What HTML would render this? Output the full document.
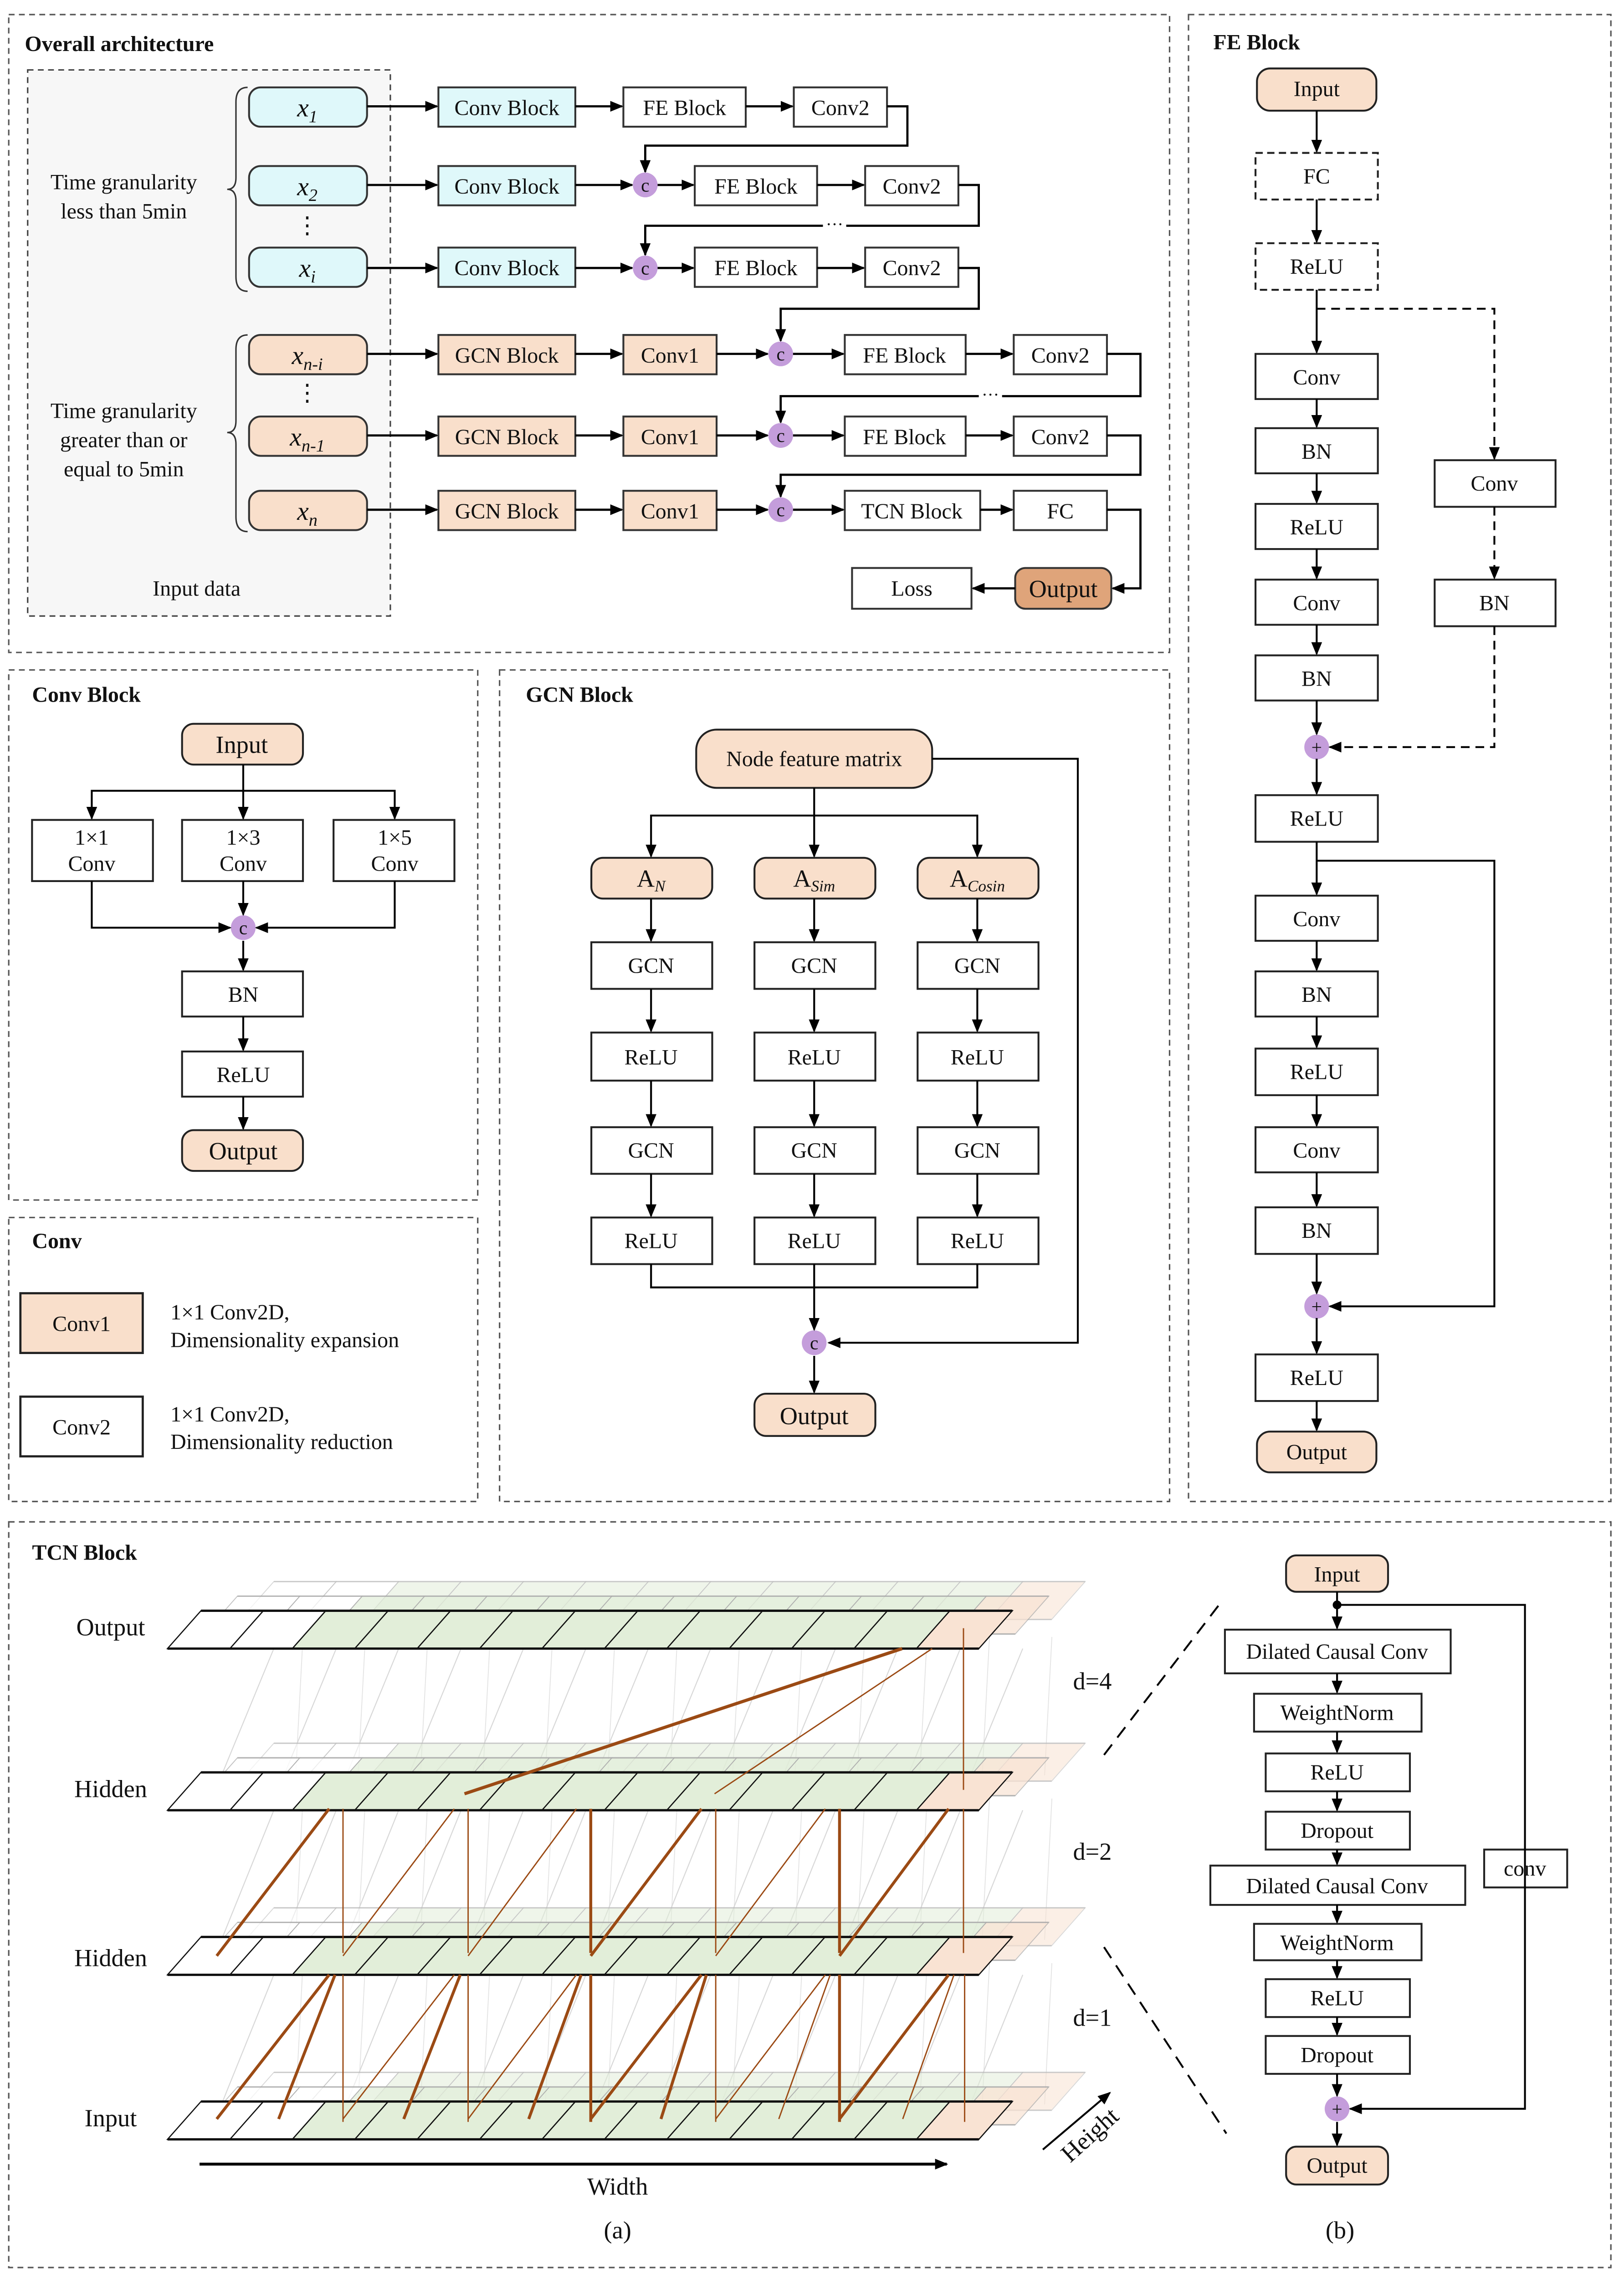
<!DOCTYPE html>
<html><head><meta charset="utf-8"><style>
html,body{margin:0;padding:0;background:#fff;width:3565px;height:5009px;overflow:hidden}
svg{display:block}
text{font-family:"Liberation Serif",serif;fill:#111}
</style></head><body>
<svg id="s" xmlns="http://www.w3.org/2000/svg" width="3565" height="5009" viewBox="0 0 1115 1567" preserveAspectRatio="none" font-family="Liberation Serif, serif">
<defs>
<marker id="a" markerWidth="9" markerHeight="9" refX="8" refY="4.5" orient="auto" markerUnits="userSpaceOnUse"><path d="M0,0.8 L9,4.5 L0,8.2Z" fill="#000"/></marker>
</defs>
<g fill="none" stroke="#555" stroke-width="1" stroke-dasharray="4,3">
<rect x="6" y="10" width="797" height="438"/>
<rect x="816" y="10" width="290" height="1021"/>
<rect x="6" y="460" width="322" height="364"/>
<rect x="6" y="836" width="322" height="195"/>
<rect x="343" y="460" width="460" height="571"/>
<rect x="6" y="1045" width="1100" height="512"/>
</g>
<rect x="19" y="48" width="249" height="375" fill="#f7f7f7" stroke="#444" stroke-width="1" stroke-dasharray="4,3"/>
<g font-weight="bold" font-size="15">
<text x="17" y="35">Overall architecture</text>
<text x="833" y="34">FE Block</text>
<text x="22" y="482">Conv Block</text>
<text x="22" y="857">Conv</text>
<text x="361" y="482">GCN  Block</text>
<text x="22" y="1071">TCN Block</text>
</g>

<!-- Overall architecture -->
<g font-size="15" text-anchor="middle">
<text x="85" y="130">Time granularity</text><text x="85" y="150">less than 5min</text>
<text x="85" y="287">Time granularity</text><text x="85" y="307">greater than or</text><text x="85" y="327">equal to 5min</text>
<text x="135" y="409">Input data</text>
<text x="211" y="160" font-size="16">⋮</text><text x="211" y="275" font-size="16">⋮</text>
</g>
<g fill="none" stroke="#333" stroke-width="1">
<path d="M170,60 Q162,60 162,70 L162,122 Q162,130 156,130 Q162,130 162,138 L162,190 Q162,200 170,200"/>
<path d="M170,230 Q162,230 162,240 L162,289 Q162,297 156,297 Q162,297 162,305 L162,355 Q162,365 170,365"/>
</g>
<g stroke="#333" stroke-width="1.3">
<rect x="171" y="60" width="81" height="27" rx="8" fill="#dff8fa"/>
<rect x="171" y="114" width="81" height="27" rx="8" fill="#dff8fa"/>
<rect x="171" y="170" width="81" height="27" rx="8" fill="#dff8fa"/>
<rect x="171" y="230" width="81" height="27" rx="8" fill="#f9dfcb"/>
<rect x="171" y="286" width="81" height="27" rx="8" fill="#f9dfcb"/>
<rect x="171" y="337" width="81" height="27" rx="8" fill="#f9dfcb"/>
<rect x="301" y="60" width="94" height="27" fill="#dff8fa"/>
<rect x="301" y="114" width="94" height="27" fill="#dff8fa"/>
<rect x="301" y="170" width="94" height="27" fill="#dff8fa"/>
<rect x="301" y="230" width="94" height="27" fill="#f9dfcb"/>
<rect x="301" y="286" width="94" height="27" fill="#f9dfcb"/>
<rect x="301" y="337" width="94" height="27" fill="#f9dfcb"/>
<rect x="428" y="230" width="64" height="27" fill="#f9dfcb"/>
<rect x="428" y="286" width="64" height="27" fill="#f9dfcb"/>
<rect x="428" y="337" width="64" height="27" fill="#f9dfcb"/>
<rect x="428" y="60" width="84" height="27" fill="#fff"/>
<rect x="545" y="60" width="64" height="27" fill="#fff"/>
<rect x="477" y="114" width="84" height="27" fill="#fff"/>
<rect x="594" y="114" width="64" height="27" fill="#fff"/>
<rect x="477" y="170" width="84" height="27" fill="#fff"/>
<rect x="594" y="170" width="64" height="27" fill="#fff"/>
<rect x="580" y="230" width="83" height="27" fill="#fff"/>
<rect x="696" y="230" width="64" height="27" fill="#fff"/>
<rect x="580" y="286" width="83" height="27" fill="#fff"/>
<rect x="696" y="286" width="64" height="27" fill="#fff"/>
<rect x="580" y="337" width="93" height="27" fill="#fff"/>
<rect x="696" y="337" width="64" height="27" fill="#fff"/>
<rect x="697" y="390" width="66" height="28" rx="7" fill="#dfa47a"/>
<rect x="585" y="390" width="82" height="28" fill="#fff"/>
</g>
<g font-size="15" text-anchor="middle">
<text x="211" y="80" font-style="italic" font-size="18">x<tspan font-size="12" dy="4">1</tspan></text>
<text x="211" y="134" font-style="italic" font-size="18">x<tspan font-size="12" dy="4">2</tspan></text>
<text x="211" y="190" font-style="italic" font-size="18">x<tspan font-size="12" dy="4">i</tspan></text>
<text x="211" y="250" font-style="italic" font-size="18">x<tspan font-size="12" dy="4">n-i</tspan></text>
<text x="211" y="306" font-style="italic" font-size="18">x<tspan font-size="12" dy="4">n-1</tspan></text>
<text x="211" y="357" font-style="italic" font-size="18">x<tspan font-size="12" dy="4">n</tspan></text>
<text x="348" y="79">Conv Block</text><text x="348" y="133">Conv Block</text><text x="348" y="189">Conv Block</text>
<text x="348" y="249">GCN Block</text><text x="348" y="305">GCN Block</text><text x="348" y="356">GCN Block</text>
<text x="460" y="249">Conv1</text><text x="460" y="305">Conv1</text><text x="460" y="356">Conv1</text>
<text x="470" y="79">FE Block</text><text x="577" y="79">Conv2</text>
<text x="519" y="133">FE Block</text><text x="626" y="133">Conv2</text>
<text x="519" y="189">FE Block</text><text x="626" y="189">Conv2</text>
<text x="621" y="249">FE Block</text><text x="728" y="249">Conv2</text>
<text x="621" y="305">FE Block</text><text x="728" y="305">Conv2</text>
<text x="626" y="356">TCN Block</text><text x="728" y="356">FC</text>
<text x="730" y="410" font-size="17">Output</text><text x="626" y="409">Loss</text>
</g>
<g fill="none" stroke="#000" stroke-width="1.5" marker-end="url(#a)">
<path d="M252,73H300"/><path d="M395,73H427"/><path d="M512,73H544"/>
<path d="M609,73H623V100H443V118"/>
<path d="M252,127H300"/><path d="M395,127H434"/><path d="M451,127H476"/><path d="M561,127H593"/>
<path d="M658,127H672V155H443V175"/>
<path d="M252,184H300"/><path d="M395,184H434"/><path d="M451,184H476"/><path d="M561,184H593"/>
<path d="M658,184H672V212H536V234"/>
<path d="M252,243H300"/><path d="M395,243H427"/><path d="M492,243H527"/><path d="M544,243H579"/><path d="M663,243H695"/>
<path d="M760,243H783V272H536V290"/>
<path d="M252,299H300"/><path d="M395,299H427"/><path d="M492,299H527"/><path d="M544,299H579"/><path d="M663,299H695"/>
<path d="M760,299H783V326H536V341"/>
<path d="M252,350H300"/><path d="M395,350H427"/><path d="M492,350H527"/><path d="M544,350H579"/><path d="M673,350H695"/>
<path d="M760,350H783V404H764"/><path d="M697,404H668"/>
</g>
<rect x="565" y="150" width="16" height="10" fill="#fff"/><text x="573" y="158" font-size="12" text-anchor="middle">···</text>
<rect x="672" y="267" width="16" height="10" fill="#fff"/><text x="680" y="275" font-size="12" text-anchor="middle">···</text>

<g id="circles"></g>

<!-- FE block -->
<g stroke="#222" stroke-width="1.3" fill="#fff">
<rect x="863" y="47" width="82" height="29" rx="9" fill="#f9dfcb"/>
<rect x="862" y="105" width="84" height="32" stroke-dasharray="5,3"/>
<rect x="862" y="167" width="84" height="32" stroke-dasharray="5,3"/>
<rect x="862" y="243" width="84" height="31"/>
<rect x="862" y="294" width="84" height="31"/>
<rect x="862" y="346" width="84" height="31"/>
<rect x="862" y="398" width="84" height="31"/>
<rect x="862" y="450" width="84" height="31"/>
<rect x="862" y="546" width="84" height="32"/>
<rect x="862" y="615" width="84" height="31"/>
<rect x="862" y="667" width="84" height="31"/>
<rect x="862" y="720" width="84" height="32"/>
<rect x="862" y="774" width="84" height="31"/>
<rect x="862" y="829" width="84" height="32"/>
<rect x="862" y="930" width="84" height="32"/>
<rect x="863" y="983" width="82" height="28" rx="9" fill="#f9dfcb"/>
<rect x="985" y="316" width="83" height="32"/>
<rect x="985" y="398" width="83" height="32"/>
</g>
<g font-size="15" text-anchor="middle">
<text x="904" y="66">Input</text><text x="904" y="126">FC</text><text x="904" y="188">ReLU</text>
<text x="904" y="264">Conv</text><text x="904" y="315">BN</text><text x="904" y="367">ReLU</text>
<text x="904" y="419">Conv</text><text x="904" y="471">BN</text><text x="904" y="567">ReLU</text>
<text x="904" y="636">Conv</text><text x="904" y="688">BN</text><text x="904" y="741">ReLU</text>
<text x="904" y="795">Conv</text><text x="904" y="850">BN</text><text x="904" y="951">ReLU</text>
<text x="904" y="1002">Output</text>
<text x="1026" y="337">Conv</text><text x="1026" y="419">BN</text>
</g>
<g fill="none" stroke="#000" stroke-width="1.3" marker-end="url(#a)">
<path d="M904,76V104"/><path d="M904,137V166"/><path d="M904,199V242"/>
<path d="M904,274V293"/><path d="M904,325V345"/><path d="M904,377V397"/><path d="M904,429V449"/><path d="M904,481V504"/>
<path d="M904,521V545"/><path d="M904,578V614"/><path d="M904,646V666"/><path d="M904,698V719"/><path d="M904,752V773"/><path d="M904,805V828"/><path d="M904,861V888"/>
<path d="M904,905V929"/><path d="M904,962V982"/>
<path d="M904,591H1026V897H913"/>
</g>
<g fill="none" stroke="#000" stroke-width="1.3" stroke-dasharray="6,4" marker-end="url(#a)">
<path d="M904,212H1026V315"/><path d="M1026,348V397"/><path d="M1026,430V513H913"/>
</g>

<!-- Conv block -->
<g stroke="#222" stroke-width="1.3" fill="#fff">
<rect x="125" y="497" width="83" height="28" rx="8" fill="#f9dfcb"/>
<rect x="22" y="563" width="83" height="42"/><rect x="125" y="563" width="83" height="42"/><rect x="229" y="563" width="83" height="42"/>
<rect x="125" y="667" width="83" height="31"/><rect x="125" y="722" width="83" height="31"/>
<rect x="125" y="776" width="83" height="28" rx="8" fill="#f9dfcb"/>
</g>
<g font-size="15" text-anchor="middle">
<text x="166" y="517" font-size="17">Input</text>
<text x="63" y="580">1×1</text><text x="63" y="598">Conv</text>
<text x="167" y="580">1×3</text><text x="167" y="598">Conv</text>
<text x="271" y="580">1×5</text><text x="271" y="598">Conv</text>
<text x="167" y="688">BN</text><text x="167" y="743">ReLU</text>
<text x="167" y="796" font-size="17">Output</text>
</g>
<g fill="none" stroke="#000" stroke-width="1.3" marker-end="url(#a)">
<path d="M167,525V543H63V562"/><path d="M167,543H271V562"/><path d="M167,543V562"/>
<path d="M63,605V637H158"/><path d="M271,605V637H176"/><path d="M167,605V628"/>
<path d="M167,646V666"/><path d="M167,698V721"/><path d="M167,753V775"/>
</g>

<!-- Conv legend -->
<rect x="14" y="888" width="84" height="41" fill="#f9dfcb" stroke="#222" stroke-width="1.5"/>
<rect x="14" y="959" width="84" height="41" fill="#fff" stroke="#222" stroke-width="1.5"/>
<g font-size="15"><text x="56" y="914" text-anchor="middle">Conv1</text><text x="56" y="985" text-anchor="middle">Conv2</text>
<text x="117" y="906">1×1 Conv2D,</text><text x="117" y="925">Dimensionality expansion</text>
<text x="117" y="976">1×1 Conv2D,</text><text x="117" y="995">Dimensionality reduction</text></g>

<!-- GCN block -->
<g stroke="#222" stroke-width="1.3" fill="#fff">
<rect x="478" y="501" width="162" height="40" rx="14" fill="#f9dfcb"/>
<rect x="406" y="589" width="83" height="28" rx="8" fill="#f9dfcb"/><rect x="518" y="589" width="83" height="28" rx="8" fill="#f9dfcb"/><rect x="630" y="589" width="83" height="28" rx="8" fill="#f9dfcb"/>
<rect x="406" y="647" width="83" height="32"/><rect x="518" y="647" width="83" height="32"/><rect x="630" y="647" width="83" height="32"/>
<rect x="406" y="709" width="83" height="33"/><rect x="518" y="709" width="83" height="33"/><rect x="630" y="709" width="83" height="33"/>
<rect x="406" y="774" width="83" height="32"/><rect x="518" y="774" width="83" height="32"/><rect x="630" y="774" width="83" height="32"/>
<rect x="406" y="836" width="83" height="32"/><rect x="518" y="836" width="83" height="32"/><rect x="630" y="836" width="83" height="32"/>
<rect x="518" y="957" width="83" height="29" rx="8" fill="#f9dfcb"/>
</g>
<g font-size="15" text-anchor="middle">
<text x="559" y="526">Node feature matrix</text>
<text x="447" y="609" font-size="17">A<tspan font-size="11" font-style="italic" dy="3">N</tspan></text>
<text x="559" y="609" font-size="17">A<tspan font-size="11" font-style="italic" dy="3">Sim</tspan></text>
<text x="671" y="609" font-size="17">A<tspan font-size="11" font-style="italic" dy="3">Cosin</tspan></text>
<text x="447" y="668">GCN</text><text x="559" y="668">GCN</text><text x="671" y="668">GCN</text>
<text x="447" y="731">ReLU</text><text x="559" y="731">ReLU</text><text x="671" y="731">ReLU</text>
<text x="447" y="795">GCN</text><text x="559" y="795">GCN</text><text x="671" y="795">GCN</text>
<text x="447" y="857">ReLU</text><text x="559" y="857">ReLU</text><text x="671" y="857">ReLU</text>
<text x="559" y="978" font-size="17">Output</text>
</g>
<path d="M447,868V884H671V868" fill="none" stroke="#000" stroke-width="1.3"/>
<g fill="none" stroke="#000" stroke-width="1.3" marker-end="url(#a)">
<path d="M559,541V560H447V588"/><path d="M559,560H671V588"/><path d="M559,560V588"/>
<path d="M447,617V646"/><path d="M559,617V646"/><path d="M671,617V646"/>
<path d="M447,679V708"/><path d="M559,679V708"/><path d="M671,679V708"/>
<path d="M447,742V773"/><path d="M559,742V773"/><path d="M671,742V773"/>
<path d="M447,806V835"/><path d="M559,806V835"/><path d="M671,806V835"/>
<path d="M559,868V913"/>
<path d="M640,521H740V922H569"/><path d="M559,931V956"/>
</g>

<!-- TCN (a) -->
<g id="tcn"></g>
<g font-size="17" text-anchor="middle">
<text x="76" y="1123">Output</text><text x="76" y="1234">Hidden</text><text x="76" y="1350">Hidden</text><text x="76" y="1460">Input</text>
<text x="750" y="1160">d=4</text><text x="750" y="1277">d=2</text><text x="750" y="1391">d=1</text>
<text x="424" y="1507">Width</text><text x="424" y="1537">(a)</text><text x="920" y="1537">(b)</text>
<text x="0" y="0" transform="translate(752,1470) rotate(-42)">Height</text>
</g>
<path d="M137,1486H650" stroke="#000" stroke-width="2" marker-end="url(#a)"/>
<path d="M716,1476L762,1437" stroke="#000" stroke-width="1.3" marker-end="url(#a)"/>
<g stroke="#000" stroke-width="1.3" stroke-dasharray="9,6"><path d="M758,1205L840,1098"/><path d="M758,1337L842,1465"/></g>

<!-- TCN (b) -->
<g stroke="#222" stroke-width="1.3" fill="#fff">
<rect x="883" y="1068" width="70" height="25" rx="7" fill="#f9dfcb"/>
<rect x="841" y="1119" width="155" height="30"/>
<rect x="861" y="1163" width="115" height="26"/>
<rect x="869" y="1204" width="99" height="26"/>
<rect x="869" y="1244" width="99" height="26"/>
<rect x="831" y="1281" width="175" height="27"/>
<rect x="861" y="1321" width="115" height="25"/>
<rect x="869" y="1359" width="99" height="26"/>
<rect x="869" y="1398" width="99" height="26"/>
<rect x="883" y="1474" width="70" height="26" rx="7" fill="#f9dfcb"/>
<rect x="1019" y="1270" width="57" height="26"/>
</g>
<g font-size="15" text-anchor="middle">
<text x="918" y="1086">Input</text><text x="918" y="1139">Dilated Causal Conv</text><text x="918" y="1181">WeightNorm</text>
<text x="918" y="1222">ReLU</text><text x="918" y="1262">Dropout</text><text x="918" y="1300">Dilated Causal Conv</text>
<text x="918" y="1339">WeightNorm</text><text x="918" y="1377">ReLU</text><text x="918" y="1416">Dropout</text>
<text x="918" y="1492">Output</text><text x="1047" y="1288">conv</text>
</g>
<circle cx="918" cy="1102" r="3" fill="#000"/>
<g fill="none" stroke="#000" stroke-width="1.3" marker-end="url(#a)">
<path d="M918,1093V1118"/><path d="M918,1149V1162"/><path d="M918,1189V1203"/><path d="M918,1230V1243"/><path d="M918,1270V1280"/>
<path d="M918,1308V1320"/><path d="M918,1346V1358"/><path d="M918,1385V1397"/><path d="M918,1424V1439"/><path d="M918,1457V1473"/>
<path d="M918,1102H1047V1448H927"/>
</g>

<script>
(function(){
var NS="http://www.w3.org/2000/svg";
function el(p,t,a,txt){var e=document.createElementNS(NS,t);for(var k in a)e.setAttribute(k,a[k]);if(txt)e.textContent=txt;p.appendChild(e);return e;}
var cg=document.getElementById('circles');
function circ(x,y,sym){el(cg,'circle',{cx:x,cy:y,r:8.5,fill:'#c49ddb'});el(cg,'text',{x:x,y:y+4.5,'font-size':13,'text-anchor':'middle'},sym);}
[[443,127],[443,184],[536,243],[536,299],[536,350],[167,637],[559,922]].forEach(function(p){circ(p[0],p[1],'c');});
[[904,513],[904,897],[918,1448]].forEach(function(p){circ(p[0],p[1],'+');});
var g=document.getElementById('tcn');
var W=42.85, tops=[1106,1217,1330,1443];
function layer(T,dx,dy,op,str){
 for(var i=0;i<13;i++){
  var x0=115+dx+i*W, y0=T+dy;
  var fill=i<2?'#ffffff':(i==12?'#f9e3d3':'#e2eed9');
  el(g,'polygon',{points:(x0)+','+(y0+26)+' '+(x0+23)+','+y0+' '+(x0+23+W)+','+y0+' '+(x0+W)+','+(y0+26),fill:fill,stroke:str,'stroke-width':str=='#111'?0.8:0.6,opacity:op});
 }
 el(g,'line',{x1:138+dx,y1:T+dy,x2:138+dx+13*W,y2:T+dy,stroke:str,'stroke-width':str=='#111'?1.6:1,opacity:op});
 el(g,'line',{x1:115+dx,y1:T+dy+26,x2:115+dx+13*W,y2:T+dy+26,stroke:str,'stroke-width':str=='#111'?1.6:1,opacity:op});
}
for(var L=0;L<3;L++){
 for(var i=0;i<13;i++){
  var x=148+i*W;
  el(g,'line',{x1:x+40,y1:tops[L]+26,x2:x,y2:tops[L+1]+12,stroke:'#d8d8d8','stroke-width':0.7});
  el(g,'line',{x1:x+60,y1:tops[L]+18,x2:x+55,y2:tops[L+1]+2,stroke:'#e4e4e4','stroke-width':0.6});
 }
}
tops.forEach(function(T){
 layer(T,50,-20,0.55,'#bbb');
 layer(T,25,-10,0.7,'#aaa');
 layer(T,0,0,1,'#111');
});
var B='#9b4a14';
function ln(x1,y1,x2,y2,w){el(g,'line',{x1:x1,y1:y1,x2:x2,y2:y2,stroke:B,'stroke-width':w});}
ln(619.4,1132,318.9,1231.7,2.2);ln(640,1132,490.6,1231.7,0.9);ln(661.5,1118,661.5,1229,0.9);
var d2=[[226,148.8,2],[311.9,235.5,0.9],[395.7,321.4,0.9],[481.6,405.6,2],[566.6,491.4,0.9],[651.3,576.4,2]];
d2.forEach(function(a){ln(a[0],1242,a[1],1343,a[2]);});
[[235.5,0.9],[321.4,0.9],[405.6,2],[491.4,0.9],[576.4,2],[661.5,0.9]].forEach(function(a){ln(a[0],1242,a[0],1341,a[1]);});
var pts=[148.8,191.3,235.5,277.2,321.4,363,405.6,453.8,491.4,534.7,576.4,619.8,662.3];
var st=[226,230,311.9,316,395.7,399,481.6,485,566.6,570,651.3,655];
var wd=[2,2,0.9,2,0.9,2,2,2,0.9,0.9,2,0.9];
for(var k=0;k<12;k++)ln(st[k],1356,pts[k],1455,wd[k]);
[[235.5,0.9],[321.4,0.9],[405.6,2],[491.4,0.9],[576.4,2],[662.3,0.9]].forEach(function(a){ln(a[0],1356,a[0],1457,a[1]);});
})();
</script>
</svg>
</body></html>
